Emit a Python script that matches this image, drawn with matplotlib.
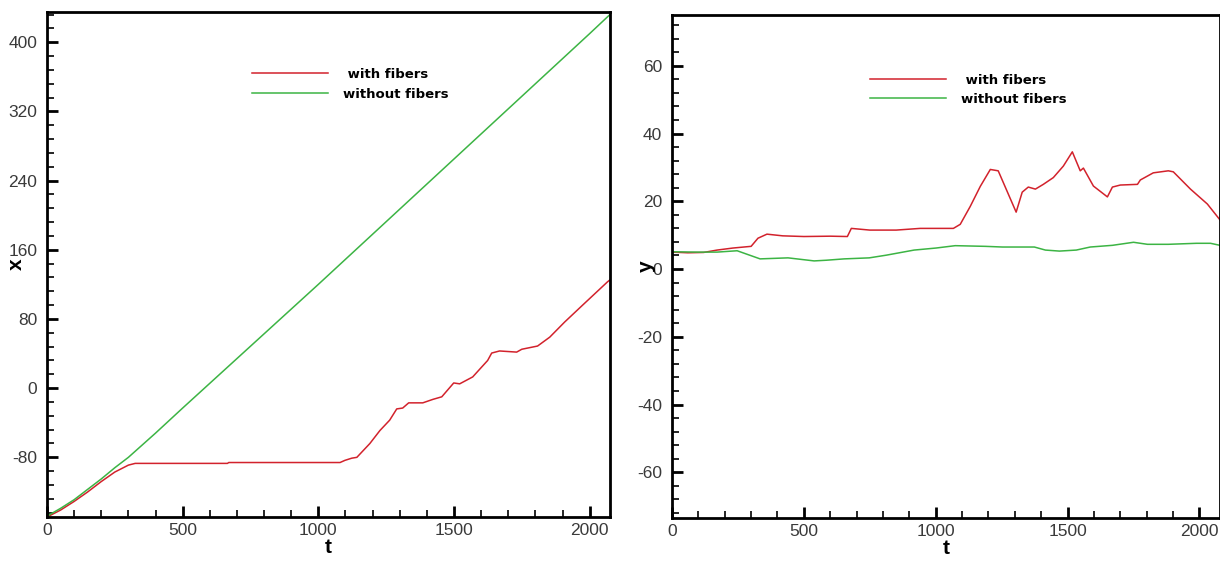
import numpy as np
import matplotlib
matplotlib.use("Agg")
import matplotlib.pyplot as plt
from matplotlib.ticker import MultipleLocator

# ---- data -------------------------------------------------------------
# x(t), particle with fibers
t_x_with = [0, 50, 100, 150, 200, 250, 300, 325, 665, 670, 1080, 1098, 1123,
            1142, 1190, 1227, 1263, 1289, 1311, 1333, 1385, 1422, 1455, 1499,
            1521, 1569, 1595, 1624, 1639, 1668, 1731, 1750, 1808, 1853, 1908,
            1974, 2066, 2078]
x_with = [-149, -141, -131, -120, -108, -97, -89, -87, -87, -86, -86, -83.5,
          -81, -80, -64, -49, -37, -24, -23, -17, -17, -13, -10, 6, 5, 13, 22,
          32, 40.6, 43, 41.7, 45, 48.7, 59, 76.5, 96, 123, 126]

# x(t), particle without fibers
t_x_without = [0, 50, 100, 150, 200, 250, 300, 400, 500, 1000, 1500, 2000, 2078]
x_without = [-148, -139, -129, -117, -105, -92, -80, -52, -23, 120, 265, 410, 433]

# y(t), particle with fibers
t_y_with = [0, 60, 120, 171, 231, 300, 326, 360, 420, 500, 600, 665, 680, 750,
            850, 941, 1067, 1093, 1131, 1169, 1207, 1237, 1305, 1328, 1351,
            1378, 1408, 1446, 1484, 1518, 1548, 1560, 1598, 1651, 1670, 1700,
            1765, 1776, 1825, 1882, 1901, 1966, 2030, 2078]
y_with = [5.0, 4.8, 4.9, 5.6, 6.2, 6.7, 9.1, 10.3, 9.8, 9.6, 9.7, 9.6, 12.0,
          11.5, 11.5, 12.0, 12.0, 13.2, 18.5, 24.4, 29.4, 29.0, 16.8, 22.7,
          24.2, 23.6, 25.0, 27.0, 30.4, 34.6, 29.0, 29.8, 24.5, 21.3, 24.2,
          24.8, 25.0, 26.3, 28.4, 29.0, 28.7, 23.6, 19.2, 14.5]

# y(t), particle without fibers
t_y_without = [0, 100, 171, 247, 334, 440, 539, 585, 653, 748, 813, 918, 1001,
               1074, 1188, 1253, 1374, 1416, 1469, 1533, 1586, 1670, 1750, 1803,
               1882, 1989, 2042, 2078]
y_without = [5.1, 5.0, 5.0, 5.4, 3.0, 3.3, 2.4, 2.6, 3.0, 3.3, 4.1, 5.6, 6.2,
             6.9, 6.7, 6.5, 6.5, 5.6, 5.3, 5.6, 6.5, 7.0, 7.9, 7.3, 7.3, 7.6,
             7.6, 7.0]

labels = [" with fibers", "without fibers"]

# ---- style ------------------------------------------------------------
plt.rcParams["font.family"] = ["Liberation Sans", "DejaVu Sans"]
plt.rcParams["axes.unicode_minus"] = False

RED = "#d2222c"
GREEN = "#3cb444"
TICK_COLOR = "#3a3a3a"

W, H = 1220, 563
fig = plt.figure(figsize=(W / 100, H / 100), dpi=100)

ax1 = fig.add_axes([47 / W, (H - 517) / H, 563 / W, 505 / H])
ax2 = fig.add_axes([672 / W, (H - 518) / H, 548 / W, 503 / H])


def style_axes(ax, ymajor, yminor):
    for side in ("left", "bottom", "top", "right"):
        ax.spines[side].set_linewidth(2.0)
        ax.spines[side].set_color("black")
    ax.xaxis.set_major_locator(MultipleLocator(500))
    ax.xaxis.set_minor_locator(MultipleLocator(100))
    ax.yaxis.set_major_locator(MultipleLocator(ymajor))
    ax.yaxis.set_minor_locator(MultipleLocator(yminor))
    ax.tick_params(which="major", direction="in", length=8, width=2,
                   labelsize=12.5, labelcolor=TICK_COLOR, color="black")
    ax.tick_params(which="minor", direction="in", length=5, width=1.2,
                   color="black")
    ax.tick_params(axis="y", which="major", pad=7)
    ax.tick_params(axis="x", which="major", pad=4)


# ---- left panel: x(t) -------------------------------------------------
ax1.plot(t_x_with, x_with, color=RED, lw=1.1, label=labels[0])
ax1.plot(t_x_without, x_without, color=GREEN, lw=1.1, label=labels[1])
ax1.set_xlim(0, 2075)
ax1.set_ylim(-149, 435)
style_axes(ax1, 80, 16)
ax1.set_xlabel("t", fontsize=15, fontweight="bold", labelpad=0)
ax1.set_ylabel("x", fontsize=15, fontweight="bold")
ax1.yaxis.set_label_coords(-0.037, 0.5)
ax1.legend(loc="upper left", bbox_to_anchor=(0.364, 0.889), frameon=False,
           borderpad=0, borderaxespad=0, handlelength=5.8, handletextpad=1.1,
           labelspacing=0.5, prop={"family": "DejaVu Sans", "weight": "bold",
                                   "size": 9.5})

# ---- right panel: y(t) ------------------------------------------------
ax2.plot(t_y_with, y_with, color=RED, lw=1.1, label=labels[0])
ax2.plot(t_y_without, y_without, color=GREEN, lw=1.1, label=labels[1])
ax2.set_xlim(0, 2078)
ax2.set_ylim(-73.5, 75)
style_axes(ax2, 20, 4)
ax2.set_xlabel("t", fontsize=15, fontweight="bold", labelpad=0)
ax2.set_ylabel("y", fontsize=15, fontweight="bold")
ax2.yaxis.set_label_coords(-0.029, 0.5)
ax2.legend(loc="upper left", bbox_to_anchor=(0.361, 0.883), frameon=False,
           borderpad=0, borderaxespad=0, handlelength=5.8, handletextpad=1.1,
           labelspacing=0.45, prop={"family": "DejaVu Sans", "weight": "bold",
                                    "size": 9.5})

fig.savefig("out.png", dpi=100)
